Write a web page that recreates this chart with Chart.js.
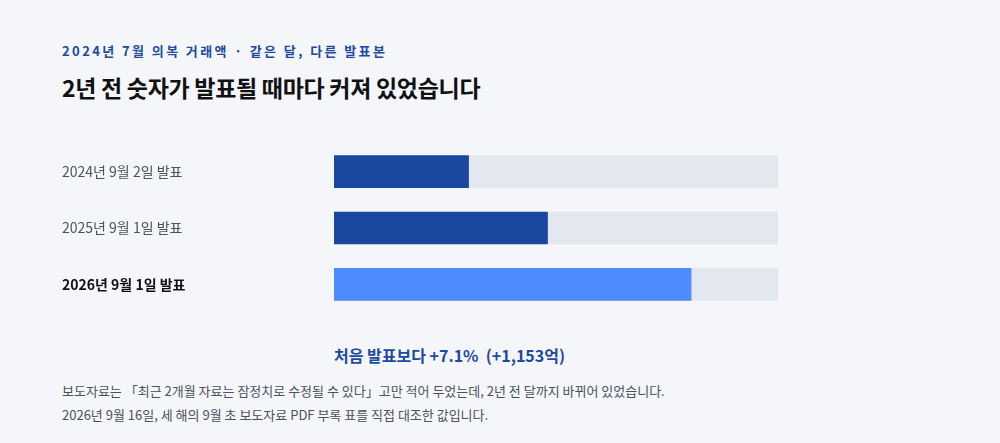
<!DOCTYPE html>
<html><head><meta charset="utf-8">
<script src="https://cdn.jsdelivr.net/npm/chart.js@4"></script>
<style>
body{margin:0;background:#f4f6fa;font-family:"Noto Sans CJK KR",sans-serif;width:1000px;height:443px;overflow:hidden;position:relative}
.k{position:absolute;left:62px;top:41px;font-size:13px;font-weight:700;color:#1d4aa0;letter-spacing:2.4px}
.t{position:absolute;left:62px;top:70px;font-size:23px;font-weight:700;color:#111;letter-spacing:-0.3px}
.s{position:absolute;left:334px;top:343px;font-size:16px;font-weight:700;color:#1d4aa0}
.n{position:absolute;left:62px;font-size:13px;color:#4a5260}
#w{position:absolute;left:62px;top:135px;width:716px;height:186px}
</style></head><body>
<div class="k">2024년 7월 의복 거래액 · 같은 달, 다른 발표본</div>
<div class="t">2년 전 숫자가 발표될 때마다 커져 있었습니다</div>
<div id="w"><canvas id="c"></canvas></div>
<div class="s">처음 발표보다 +7.1% &nbsp;(+1,153억)</div>
<div class="n" style="top:381px">보도자료는 「최근 2개월 자료는 잠정치로 수정될 수 있다」고만 적어 두었는데, 2년 전 달까지 바뀌어 있었습니다.</div>
<div class="n" style="top:405px">2026년 9월 16일, 세 해의 9월 초 보도자료 PDF 부록 표를 직접 대조한 값입니다.</div>
<script>
const labels=["2024년 9월 2일 발표","2025년 9월 1일 발표","2026년 9월 1일 발표"];
const values=[16197,16606,17350];
const axisMin=15500, axisMax=17800;
const colors=["#1a47a0","#1a47a0","#4d8cff"];
const valLabels={id:'v',afterDatasetsDraw(ch){const c=ch.ctx;const m=ch.getDatasetMeta(1);c.save();c.fillStyle='#fff';c.font='700 17px "Noto Sans CJK KR"';c.textBaseline='middle';
m.data.forEach((b,i)=>{c.fillText(values[i].toLocaleString('en-US')+'억',b.base+11,b.y+1)});c.restore();}};
new Chart(document.getElementById('c'),{type:'bar',
data:{labels,datasets:[
{data:values.map(()=>axisMax),backgroundColor:'#e2e7f0',barThickness:32,grouped:false,order:2},
{data:values,backgroundColor:colors,barThickness:32,grouped:false,order:1}]},
options:{indexAxis:'y',responsive:true,maintainAspectRatio:false,animation:false,
layout:{padding:0},
plugins:{legend:{display:false},tooltip:{enabled:false}},
scales:{x:{display:false,min:axisMin,max:axisMax},
y:{grid:{display:false},border:{display:false},afterFit(a){a.width=272},
ticks:{crossAlign:'far',padding:0,font:(ctx)=>({size:14,weight:ctx.index===2?'700':'400',family:'"Noto Sans CJK KR"'}),
color:(ctx)=>ctx.index===2?'#111':'#4a5260'}}}},
plugins:[valLabels]});
</script></body></html>
